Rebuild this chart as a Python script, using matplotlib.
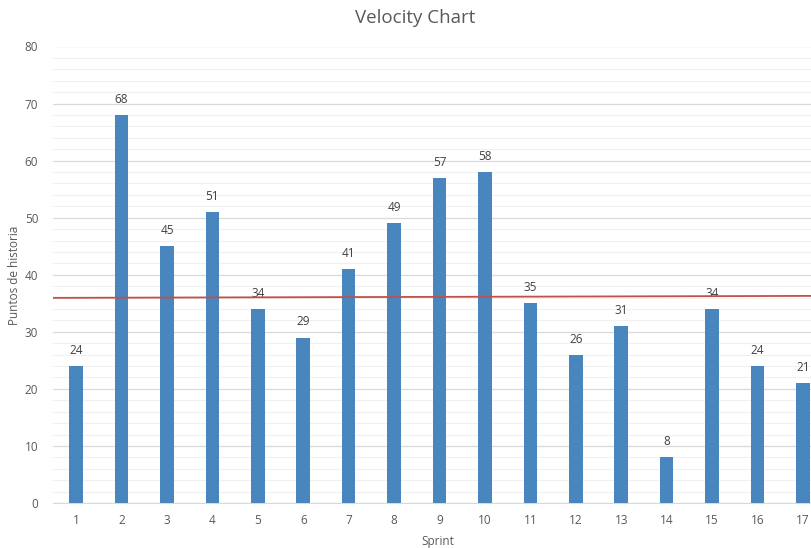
import numpy as np
import matplotlib.pyplot as plt

plt.rcParams['font.family'] = ['Open Sans', 'DejaVu Sans']

# datos del grafico
sprints = [str(i) for i in range(1, 18)]
puntos = [24, 68, 45, 51, 34, 29, 41, 49, 57, 58, 35, 26, 31, 8, 34, 24, 21]
# linea roja (casi horizontal)
linea_x = [-0.5, 16.5]
linea_y = [35.95, 36.3]

fig = plt.figure(figsize=(8.12, 5.48), dpi=100)
# el area de trazado se sale un poco por la derecha, como en la captura
ax = fig.add_axes([53.5 / 812, 45 / 548, 772 / 812, 456.5 / 548])

x = np.arange(len(sprints))
ax.bar(x, puntos, width=0.3, color="#4a86be", zorder=3)
for xi, v in zip(x, puntos):
    ax.text(xi, v + 1.6, str(v), ha="center", va="bottom", fontsize=8.5, color="#404040")

ax.plot(linea_x, linea_y, color="#c0504d", linewidth=1.3, zorder=4)

ax.set_xlim(-0.5, 16.5)
ax.set_ylim(0, 80)
ax.set_xticks(x)
ax.set_xticklabels(sprints)
ax.set_yticks(np.arange(0, 81, 10))
ax.set_yticks(np.arange(0, 81, 2), minor=True)
ax.grid(which="major", axis="y", color="#d9d9d9", linewidth=0.9, zorder=0)
ax.grid(which="minor", axis="y", color="#f0f0f0", linewidth=0.8, zorder=0)
ax.tick_params(axis="both", which="both", length=0, labelsize=8.5, labelcolor="#595959")
ax.tick_params(axis="x", pad=8)
ax.tick_params(axis="y", pad=11)
for s in ["top", "right", "left"]:
    ax.spines[s].set_visible(False)
ax.spines["bottom"].set_color("#d9d9d9")

fig.text(415 / 812, 1 - 18 / 548, "Velocity Chart", ha="center", va="center",
         fontsize=13.5, color="#595959")
fig.text(438 / 812, 1 - 541 / 548, "Sprint", ha="center", va="center",
         fontsize=8.5, color="#595959")
fig.text(15 / 812, 1 - 275 / 548, "Puntos de historia", ha="center", va="center",
         rotation=90, fontsize=8.5, color="#595959")

fig.savefig("out.png", dpi=100)
